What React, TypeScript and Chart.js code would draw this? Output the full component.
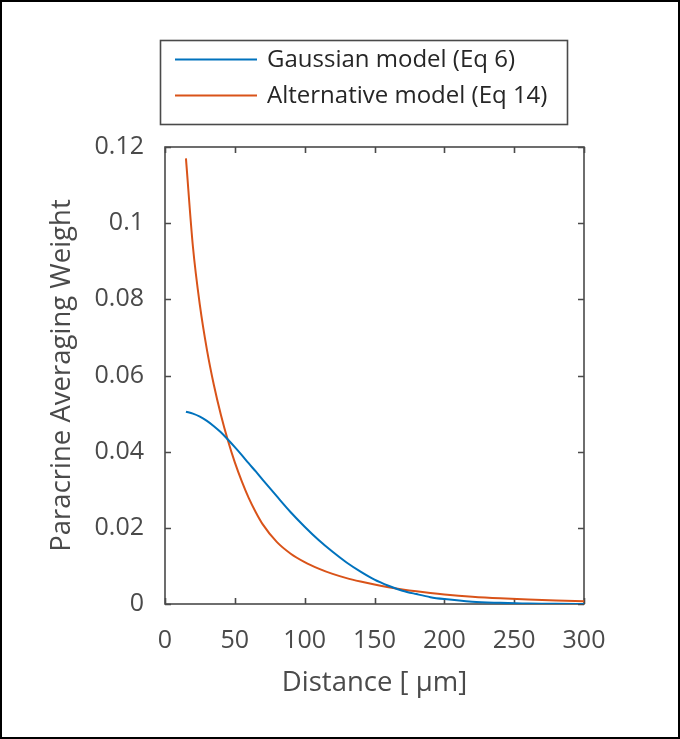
import React, { useEffect, useRef } from "react";
import { Chart, registerables } from "chart.js";

Chart.register(...registerables);

const distances = [15, 20, 25, 30, 35, 40, 45, 50, 55, 60, 65, 70, 80, 90, 100, 110, 120, 130, 140, 150, 160, 170, 180, 190, 200, 220, 240, 260, 280, 300];
const gaussianWeights = [0.0505, 0.05, 0.0492, 0.0481, 0.0467, 0.0451, 0.0432, 0.0412, 0.0391, 0.0369, 0.0348, 0.0326, 0.0283, 0.0241, 0.0203, 0.0168, 0.0137, 0.0109, 0.0085, 0.0064, 0.0048, 0.0035, 0.0026, 0.0018, 0.0013, 0.0006, 0.0003, 0.0001, 0.00005, 0.00002];
const alternativeWeights = [0.117, 0.0938, 0.0784, 0.0668, 0.0575, 0.0497, 0.043, 0.0372, 0.0322, 0.0278, 0.0241, 0.0209, 0.0163, 0.0132, 0.011, 0.0093, 0.0079, 0.0068, 0.0059, 0.0051, 0.0044, 0.00382, 0.00332, 0.00289, 0.00252, 0.00193, 0.0015, 0.00118, 0.00093, 0.00073];
const seriesLabels = ["Gaussian model (Eq 6)", "Alternative model (Eq 14)"];
const seriesColors = ["#0072BD", "#D95319"];
const xTitle = "Distance [ \u03bcm]";
const yTitle = "Paracrine Averaging Weight";

const FONT = "'Open Sans', 'Noto Sans', sans-serif";
const AXIS_COLOR = "#4a4a4a";

const framePlugin = {
  id: "matlabFrame",
  beforeDatasetsDraw(chart: any) {
    const { ctx, chartArea, scales } = chart;
    const { left, right, top, bottom } = chartArea;
    ctx.save();
    ctx.strokeStyle = AXIS_COLOR;
    ctx.lineWidth = 1.6;
    ctx.strokeRect(left, top, right - left, bottom - top);
    const tl = 6;
    ctx.beginPath();
    scales.x.ticks.forEach((t: any) => {
      const px = Math.round(scales.x.getPixelForValue(t.value)) + 0.5;
      ctx.moveTo(px, bottom);
      ctx.lineTo(px, bottom - tl);
      ctx.moveTo(px, top);
      ctx.lineTo(px, top + tl);
    });
    scales.y.ticks.forEach((t: any) => {
      const py = Math.round(scales.y.getPixelForValue(t.value)) + 0.5;
      ctx.moveTo(left, py);
      ctx.lineTo(left + tl, py);
      ctx.moveTo(right, py);
      ctx.lineTo(right - tl, py);
    });
    ctx.stroke();
    ctx.restore();
  },
  afterDraw(chart: any) {
    const { ctx } = chart;
    ctx.save();
    ctx.strokeStyle = AXIS_COLOR;
    ctx.lineWidth = 1.6;
    ctx.strokeRect(160.5, 40.5, 407, 84);
    const rows = [59.5, 95.5];
    seriesLabels.forEach((lab, i) => {
      ctx.strokeStyle = seriesColors[i];
      ctx.lineWidth = 2;
      ctx.beginPath();
      ctx.moveTo(175, rows[i]);
      ctx.lineTo(257, rows[i]);
      ctx.stroke();
      ctx.fillStyle = "#262626";
      ctx.font = `24px ${FONT}`;
      ctx.textBaseline = "middle";
      ctx.textAlign = "left";
      ctx.fillText(lab, 267, rows[i] + 1);
    });
    ctx.strokeStyle = "#000000";
    ctx.lineWidth = 2;
    ctx.strokeRect(1, 1, chart.width - 2, chart.height - 2);
    ctx.restore();
  },
};

export default function App() {
  const ref = useRef<HTMLCanvasElement | null>(null);

  useEffect(() => {
    if (!ref.current) return;
    const chart = new Chart(ref.current, {
      type: "line",
      data: {
        datasets: [
          {
            label: seriesLabels[0],
            data: distances.map((d, i) => ({ x: d, y: gaussianWeights[i] })),
            borderColor: seriesColors[0],
            borderWidth: 2,
            pointRadius: 0,
            cubicInterpolationMode: "monotone",
            fill: false,
          },
          {
            label: seriesLabels[1],
            data: distances.map((d, i) => ({ x: d, y: alternativeWeights[i] })),
            borderColor: seriesColors[1],
            borderWidth: 2,
            pointRadius: 0,
            cubicInterpolationMode: "monotone",
            fill: false,
          },
        ],
      },
      options: {
        responsive: false,
        animation: false,
        devicePixelRatio: 1,
        layout: { padding: { left: 46, right: 96, top: 147, bottom: 39 } },
        plugins: { legend: { display: false }, tooltip: { enabled: false } },
        scales: {
          x: {
            type: "linear",
            min: 0,
            max: 300,
            afterFit: (s: any) => {
              s.height = 96;
            },
            grid: { display: false, drawTicks: false },
            border: { display: false },
            ticks: {
              stepSize: 50,
              padding: 22,
              color: AXIS_COLOR,
              font: { family: FONT, size: 25 },
              maxRotation: 0,
            },
            title: {
              display: true,
              text: xTitle,
              color: AXIS_COLOR,
              font: { family: FONT, size: 27.5 },
              padding: 0,
            },
          },
          y: {
            type: "linear",
            min: 0,
            max: 0.12,
            afterFit: (s: any) => {
              s.width = 119;
            },
            grid: { display: false, drawTicks: false },
            border: { display: false },
            ticks: {
              stepSize: 0.02,
              padding: 21,
              color: AXIS_COLOR,
              font: { family: FONT, size: 25 },
              callback: (v: any) => String(+Number(v).toFixed(2)),
            },
            title: {
              display: true,
              text: yTitle,
              color: AXIS_COLOR,
              font: { family: FONT, size: 27.5 },
              padding: 0,
            },
          },
        },
      },
      plugins: [framePlugin],
    });
    return () => chart.destroy();
  }, []);

  return (
    <div style={{ position: "absolute", left: 0, top: 0, width: 680, height: 739, background: "#fff" }}>
      <canvas ref={ref} width={680} height={739} style={{ display: "block" }} />
    </div>
  );
}
